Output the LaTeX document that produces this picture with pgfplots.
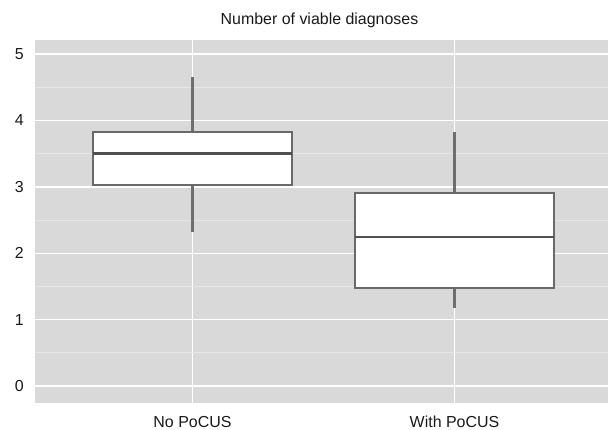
\documentclass[border=0pt]{standalone}
\usepackage{fontspec}
\setmainfont{Liberation Sans}
\usepackage{pgfplots}
\pgfplotsset{compat=1.18}
\usepgfplotslibrary{statistics}

\definecolor{panelgray}{RGB}{217,217,217}
\definecolor{minorgrid}{RGB}{230,230,230}
\definecolor{boxgray}{RGB}{105,105,105}
\definecolor{medgray}{RGB}{80,80,80}
\definecolor{whiskgray}{RGB}{110,110,110}

\begin{document}
\begin{tikzpicture}
  \path[use as bounding box] (0,0) rectangle (608bp,430bp);
  \begin{axis}[
      at={(35bp,27bp)}, anchor=south west,
      scale only axis,
      width=573bp, height=363bp,
      xmin=0.399, xmax=2.586,
      ymin=-0.256, ymax=5.211,
      xtick={1,2},
      xticklabels={No PoCUS, With PoCUS},
      ytick={0,1,2,3,4,5},
      minor ytick={0.5,1.5,2.5,3.5,4.5},
      xmajorgrids, ymajorgrids, yminorgrids,
      major grid style={white, line width=1.4bp},
      minor grid style={minorgrid, line width=0.8bp},
      axis background/.style={fill=panelgray},
      axis line style={draw=none},
      tick style={draw=none},
      major tick length=0pt,
      /pgf/number format/assume math mode=true,
      ticklabel style={font=\fontsize{16}{19}\selectfont, text=black!90},
      yticklabel style={anchor=east, inner sep=0pt, xshift=-11bp},
      xticklabel style={anchor=base, inner sep=0pt, yshift=-24bp},
      boxplot/draw direction=y,
      boxplot/every median/.style={draw=medgray, line width=2.4bp},
      boxplot/every whisker/.style={draw=whiskgray, line width=2.2bp},
      boxplot/every box/.style={draw=boxgray, fill=white, line width=1.8bp},
    ]
    \addplot[boxplot prepared={
        draw position=1,
        lower whisker=2.32, lower quartile=3.03, median=3.5,
        upper quartile=3.83, upper whisker=4.65,
        box extend=0.76, whisker extend=0},
      draw=whiskgray, fill=white, line width=2.2bp, solid] coordinates {};
    \addplot[boxplot prepared={
        draw position=2,
        lower whisker=1.175, lower quartile=1.476, median=2.24,
        upper quartile=2.907, upper whisker=3.825,
        box extend=0.76, whisker extend=0},
      draw=whiskgray, fill=white, line width=2.2bp, solid] coordinates {};
  \end{axis}
  \node[anchor=base, inner sep=0pt, font=\fontsize{16}{19}\selectfont, text=black!90]
    at (319.5bp,405bp) {Number of viable diagnoses};
\end{tikzpicture}
\end{document}
